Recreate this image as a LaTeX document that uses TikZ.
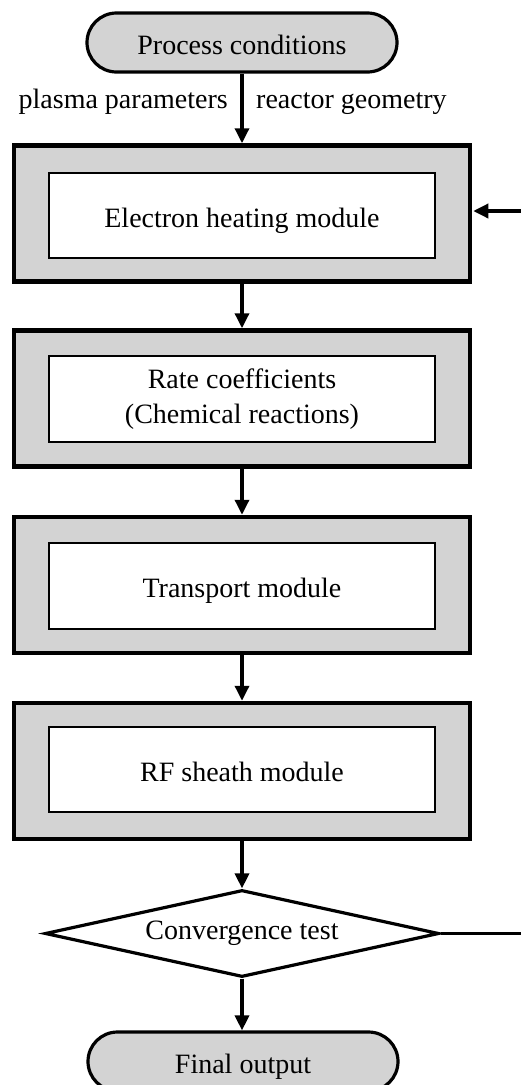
\documentclass[tikz,border=0pt]{standalone}
\usepackage{fontspec}
\setmainfont{Liberation Serif}
\usetikzlibrary{arrows.meta,shapes.geometric}
\definecolor{boxgray}{RGB}{211,211,211}
\tikzset{
  txt/.style={font=\fontsize{28}{35}\selectfont},
  oneline/.style={text height=23pt, text depth=0pt},
  terminal/.style={txt, oneline, draw, fill=boxgray, line width=3.2pt,
    rounded corners=29.5pt, minimum width=310pt, minimum height=59pt, inner sep=0pt},
  outerbox/.style={draw, fill=boxgray, line width=4.5pt,
    minimum width=456pt, minimum height=136pt, inner sep=0pt},
  innerbox/.style={txt, draw, fill=white, line width=1.6pt, align=center,
    minimum width=386pt, minimum height=85pt, inner sep=0pt},
  decision/.style={txt, diamond, aspect=4.53, draw, fill=white, line width=3.2pt,
    minimum width=394pt, minimum height=87pt, inner sep=0pt},
  flow/.style={line width=3.4pt, -{Triangle[length=15pt,width=14pt]}},
  plain/.style={line width=3.4pt},
  lbl/.style={txt, inner sep=0pt}
}
\begin{document}
\begin{tikzpicture}[x=1pt,y=-1pt]
\path[use as bounding box] (0,0) rectangle (521,1085);
\clip (0,0) rectangle (521,1085);

% start terminal and its input labels
\node[terminal] (pc) at (242,42.5) {Process conditions};
\node[lbl, anchor=base east] (plasma) at (228,108) {plasma parameters};
\node[lbl, anchor=base west] (geom) at (256,108) {reactor geometry};

% module boxes: grey frame with a white inner panel
\node[outerbox] (b1) at (242,213.5) {};
\node[innerbox, oneline] (m1) at (242,215.5) {Electron heating module};

\node[outerbox] (b2) at (242,398.5) {};
\node[innerbox, minimum height=86pt] (m2) at (242,399) {Rate coefficients\\(Chemical reactions)};

\node[outerbox] (b3) at (242,585) {};
\node[innerbox, oneline, minimum height=86pt] (m3) at (242,586) {Transport module};

\node[outerbox] (b4) at (242,771) {};
\node[innerbox, oneline] (m4) at (242,769.5) {RF sheath module};

% decision and end terminal
\node[decision] (cv) at (242,933.5) {Convergence test};
\node[terminal] (fo) at (243,1061.5) {Final output};

% main flow
\draw[flow] (pc.south) -- (b1.north);
\draw[flow] (b1.south) -- (b2.north);
\draw[flow] (b2.south) -- (b3.north);
\draw[flow] (b3.south) -- (b4.north);
\draw[flow] (b4.south) -- (cv.north);
\draw[flow] (cv.south) -- (fo.north -| cv.south);

% iteration loop ends at the right margin
\coordinate (loopin) at (521,211);
\coordinate (loopout) at (521,933.5);
\draw[flow, shorten >=1pt] (loopin) -- (loopin -| b1.east);
\draw[plain] (cv.east) -- (loopout);
\end{tikzpicture}
\end{document}
